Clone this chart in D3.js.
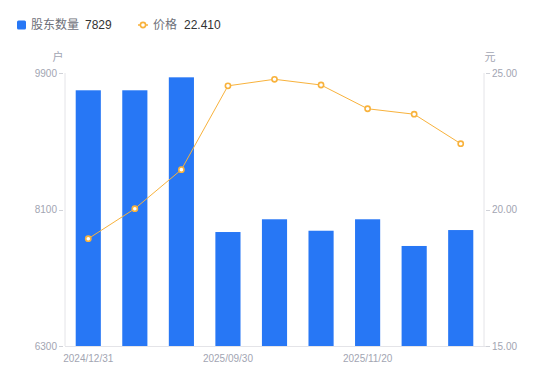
<!DOCTYPE html>
<html>
<head>
<meta charset="utf-8">
<script src="https://cdn.jsdelivr.net/npm/d3@7/dist/d3.min.js"></script>
<style>
html,body{margin:0;padding:0;background:#fff;}
svg{display:block;font-family:"Liberation Sans","Noto Sans CJK SC",sans-serif;}
</style>
</head>
<body>
<svg id="chart" width="550" height="381"></svg>
<script>
const categories = ["2024/12/31","2025/03/31","2025/06/30","2025/09/30","2025/10/20","2025/10/31","2025/11/20","2025/11/28","2025/12/10"];
const holders = [9672, 9672, 9843, 7803, 7971, 7820, 7971, 7619, 7829];
const prices = [18.93, 20.03, 21.46, 24.53, 24.77, 24.56, 23.69, 23.49, 22.41];
const leftTicks = [6300, 8100, 9900];
const rightTicks = [15, 20, 25];
const shownLabels = ["2024/12/31","2025/09/30","2025/11/20"];
const legendNames = ["股东数量","价格"];
const legendValues = ["7829","22.410"];
const units = ["户","元"];

const barColor = "#2777f5";
const lineColor = "#f8b23c";
const axisText = "#a2a5b2";
const axisLine = "#e4e4e8";

const svg = d3.select("#chart");
const L = 65, R = 484, T = 73, B = 346;

const x = d3.scaleBand().domain(categories).range([L, R]).padding(0);
const yL = d3.scaleLinear().domain([6300, 9900]).range([B, T]);
const yR = d3.scaleLinear().domain([15, 25]).range([B, T]);
const barW = x.bandwidth() * 0.54;

// axis lines
svg.append("line").attr("x1", L).attr("x2", L).attr("y1", T).attr("y2", B).attr("stroke", axisLine);
svg.append("line").attr("x1", R).attr("x2", R).attr("y1", T).attr("y2", B).attr("stroke", axisLine);
svg.append("line").attr("x1", L).attr("x2", R + 4).attr("y1", B + 0.5).attr("y2", B + 0.5).attr("stroke", axisLine);

// left ticks
const lt = svg.append("g");
lt.selectAll("line").data(leftTicks).join("line")
  .attr("x1", L - 6).attr("x2", L - 2)
  .attr("y1", d => Math.round(yL(d)) + 0.5).attr("y2", d => Math.round(yL(d)) + 0.5)
  .attr("stroke", "#d0d2d8");
lt.selectAll("text").data(leftTicks).join("text")
  .attr("x", L - 8).attr("y", d => yL(d)).attr("dy", "0.35em")
  .attr("text-anchor", "end").attr("font-size", 10).attr("fill", axisText)
  .text(d => d);

// right ticks
const rt = svg.append("g");
rt.selectAll("line").data(rightTicks).join("line")
  .attr("x1", R + 2).attr("x2", R + 6)
  .attr("y1", d => Math.round(yR(d)) + 0.5).attr("y2", d => Math.round(yR(d)) + 0.5)
  .attr("stroke", "#d0d2d8");
rt.selectAll("text").data(rightTicks).join("text")
  .attr("x", R + 8).attr("y", d => yR(d)).attr("dy", "0.35em")
  .attr("text-anchor", "start").attr("font-size", 10).attr("fill", axisText)
  .text(d => d3.format(".2f")(d));

// units
svg.append("text").attr("x", 58).attr("y", 57).attr("dy", "0.35em").attr("text-anchor", "middle")
  .attr("font-size", 11).attr("fill", axisText).text(units[0]);
svg.append("text").attr("x", 490).attr("y", 57).attr("dy", "0.35em").attr("text-anchor", "middle")
  .attr("font-size", 11).attr("fill", axisText).text(units[1]);

// x labels
svg.append("g").selectAll("text").data(shownLabels).join("text")
  .attr("x", d => x(d) + x.bandwidth() / 2).attr("y", 358).attr("dy", "0.35em")
  .attr("text-anchor", "middle").attr("font-size", 10).attr("fill", axisText)
  .text(d => d);

// bars
svg.append("g").selectAll("rect").data(holders).join("rect")
  .attr("x", (d, i) => x(categories[i]) + x.bandwidth() / 2 - barW / 2)
  .attr("width", barW)
  .attr("y", d => yL(d))
  .attr("height", d => B - yL(d))
  .attr("fill", barColor);

// line
const line = d3.line()
  .x((d, i) => x(categories[i]) + x.bandwidth() / 2)
  .y(d => yR(d));
svg.append("path").datum(prices).attr("d", line)
  .attr("fill", "none").attr("stroke", lineColor).attr("stroke-width", 1);
svg.append("g").selectAll("circle").data(prices).join("circle")
  .attr("cx", (d, i) => x(categories[i]) + x.bandwidth() / 2)
  .attr("cy", d => yR(d)).attr("r", 2.6)
  .attr("fill", "#fff").attr("stroke", lineColor).attr("stroke-width", 1.6);

// legend
const lg = svg.append("g");
lg.append("rect").attr("x", 17).attr("y", 20.5).attr("width", 9).attr("height", 9).attr("rx", 1.5).attr("fill", barColor);
lg.append("text").attr("x", 31).attr("y", 25).attr("dy", "0.35em").attr("font-size", 12).attr("fill", "#6e7079").text(legendNames[0]);
lg.append("text").attr("x", 85).attr("y", 25).attr("dy", "0.35em").attr("font-size", 12).attr("fill", "#333").text(legendValues[0]);
lg.append("line").attr("x1", 138).attr("x2", 148).attr("y1", 25).attr("y2", 25).attr("stroke", lineColor).attr("stroke-width", 1.5);
lg.append("circle").attr("cx", 143).attr("cy", 25).attr("r", 2.6).attr("fill", "#fff").attr("stroke", lineColor).attr("stroke-width", 1.6);
lg.append("text").attr("x", 153).attr("y", 25).attr("dy", "0.35em").attr("font-size", 12).attr("fill", "#6e7079").text(legendNames[1]);
lg.append("text").attr("x", 184).attr("y", 25).attr("dy", "0.35em").attr("font-size", 12).attr("fill", "#333").text(legendValues[1]);
</script>
</body>
</html>
